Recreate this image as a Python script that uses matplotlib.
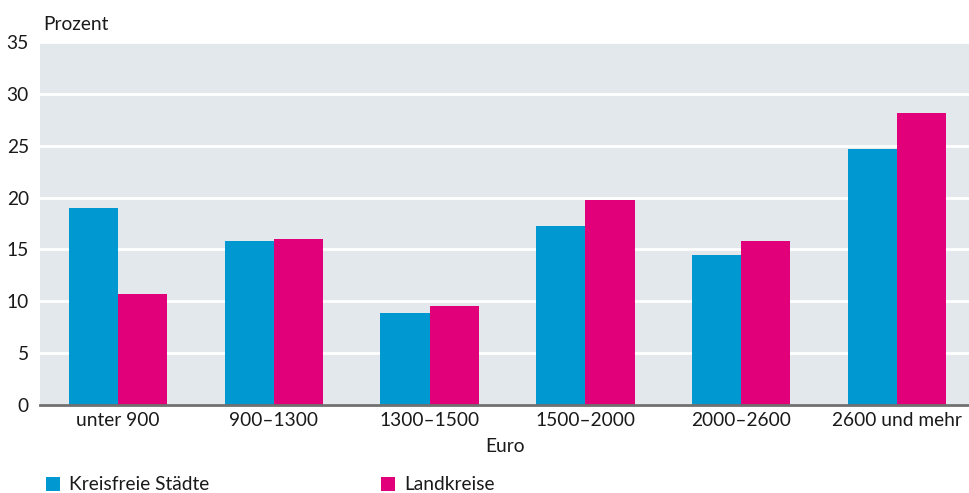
import matplotlib
matplotlib.use("Agg")
import matplotlib.pyplot as plt
import numpy as np

categories = ["unter 900", "900–1300", "1300–1500", "1500–2000", "2000–2600", "2600 und mehr"]
kreisfreie = [19.0, 15.8, 8.9, 17.3, 14.5, 24.7]
landkreise = [10.7, 16.0, 9.5, 19.8, 15.8, 28.2]
yticks = [0, 5, 10, 15, 20, 25, 30, 35]

BLUE = "#0098D1"
PINK = "#E2007A"
BG = "#E3E8EC"
TXT = "#1a1a1a"
FS = 13.8

plt.rcParams['font.family'] = ['Lato', 'DejaVu Sans']

fig = plt.figure(figsize=(9.7, 4.93), dpi=100)
ax = fig.add_axes([40/970, 1-405/493, 935/970, 363/493])
ax.set_facecolor(BG)

x = np.arange(len(categories))
w = 0.316
b1 = ax.bar(x - w/2, kreisfreie, width=w, color=BLUE, zorder=3, label="Kreisfreie Städte")
b2 = ax.bar(x + w/2, landkreise, width=w, color=PINK, zorder=3, label="Landkreise")

ax.set_xlim(-0.5, len(categories) - 0.5)
ax.set_ylim(0, 35)
ax.set_yticks(yticks)
ax.set_yticklabels([str(t) for t in yticks], fontsize=FS, color=TXT)
ax.set_xticks(x)
ax.set_xticklabels(categories, fontsize=FS, color=TXT)
ax.tick_params(axis='both', length=0)
ax.tick_params(axis='y', pad=8)
ax.tick_params(axis='x', pad=5)

ax.grid(axis='y', color='white', linewidth=2, zorder=1)
ax.set_axisbelow(True)
for s in ['top', 'right', 'left']:
    ax.spines[s].set_visible(False)
ax.spines['bottom'].set_color('#707070')
ax.spines['bottom'].set_linewidth(2)
ax.spines['bottom'].set_zorder(4)

fig.text(43/970, 1-24/493, "Prozent", fontsize=FS, color=TXT, ha='left', va='center')
fig.text(505/970, 1-446/493, "Euro", fontsize=FS, color=TXT, ha='center', va='center')

for h, lab, xpos in [(b1, "Kreisfreie Städte", 46), (b2, "Landkreise", 381)]:
    leg = fig.legend([h], [lab], loc='center left', bbox_to_anchor=(xpos/970, 1-485/493),
                     frameon=False, fontsize=FS, handlelength=0.75, handleheight=0.75,
                     handletextpad=0.45, borderaxespad=0, borderpad=0)
    for t in leg.get_texts():
        t.set_color(TXT)

fig.savefig("out.png", dpi=100, facecolor='white')
